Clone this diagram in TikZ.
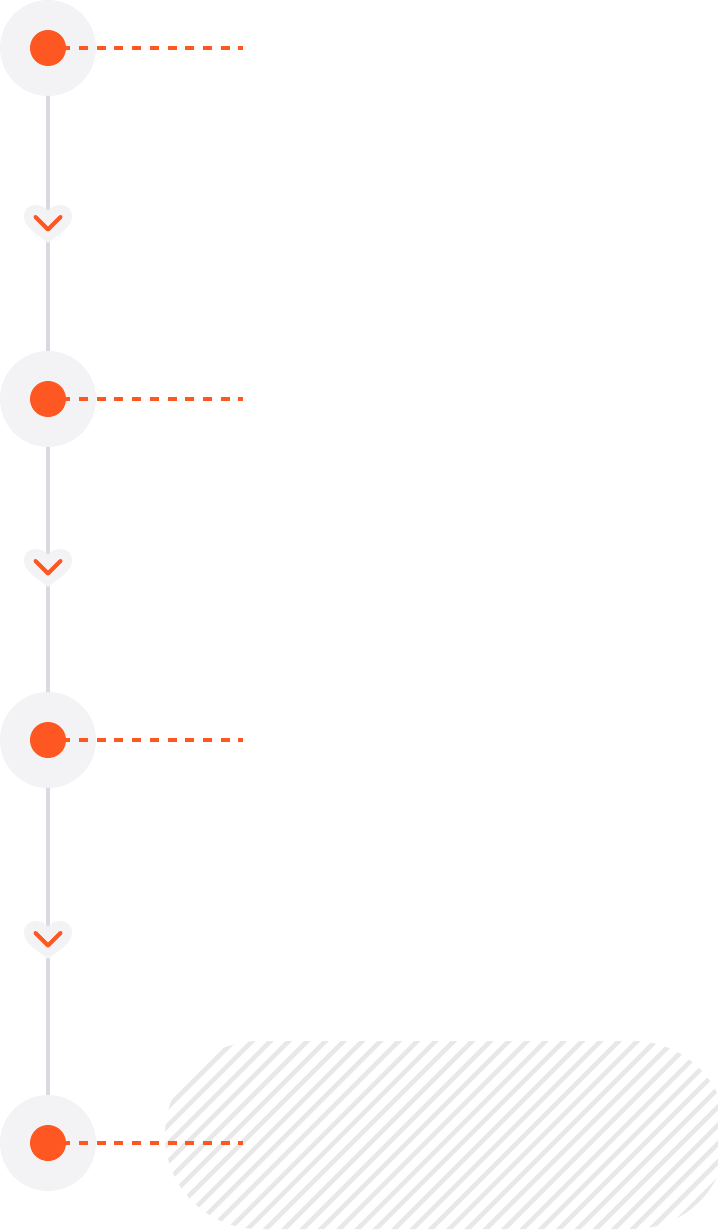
\documentclass[tikz,border=0pt]{standalone}
\usetikzlibrary{calc}
\definecolor{orng}{HTML}{FF5722}
\definecolor{halo}{HTML}{F3F3F5}
\definecolor{rail}{HTML}{D9D9E1}
\definecolor{hatch}{HTML}{E8E8E8}
\tikzset{
  halonode/.style={circle,fill=halo,minimum size=96pt,inner sep=0pt},
  dotnode/.style={circle,fill=orng,minimum size=36pt,inner sep=0pt},
  railline/.style={draw=rail,line width=4pt},
  leader/.style={draw=orng,line width=4pt,dash pattern=on 9pt off 8.7pt,dash phase=4.4pt},
  stripe/.style={draw=hatch,line width=4.6pt},
  chev/.style={draw=orng,line width=4pt,line cap=round,line join=round},
  heartmark/.pic={
    \fill[halo] (0,38) .. controls (-8,31) and (-24,23) .. (-24,12)
      .. controls (-24,4) and (-19,0) .. (-12,0)
      .. controls (-6,0) and (-2,3) .. (0,6)
      .. controls (2,3) and (6,0) .. (12,0)
      .. controls (19,0) and (24,4) .. (24,12)
      .. controls (24,23) and (8,31) .. (0,38) -- cycle;
    \draw[chev] (-12.5,12) -- (0,24.5) -- (12.5,12);
  }
}
\begin{document}
\begin{tikzpicture}[x=1pt,y=-1pt]
\useasboundingbox (0,0) rectangle (717,1230);
% hatched pill (stadium), drawn in an upright frame
\begin{scope}[x=1pt,y=1pt]
  \clip (259,-1041) -- (633,-1041) arc[start angle=90,end angle=-90,radius=94pt]
        -- (259,-1229) arc[start angle=270,end angle=90,radius=94pt] -- cycle;
  \foreach \k in {0,1,...,46} {
    \pgfmathsetmacro{\cc}{1146.66+18.33*\k}
    \draw[stripe] (\cc-1280,-1280) -- (\cc-1000,-1000);
  }
\end{scope}
% anchor points
\coordinate (p1) at (48,48);
\coordinate (p2) at (48,399);
\coordinate (p3) at (48,740);
\coordinate (p4) at (48,1143);
\coordinate (e1) at (243,48);
\coordinate (e2) at (243,399);
\coordinate (e3) at (243,740);
\coordinate (e4) at (243,1143);
% rail
\draw[railline] (p1) -- (p4);
% halos
\node[halonode] (c1) at (p1) {};
\node[halonode] (c2) at (p2) {};
\node[halonode] (c3) at (p3) {};
\node[halonode] (c4) at (p4) {};
% leaders
\draw[leader] (p1) -- (e1);
\draw[leader] (p2) -- (e2);
\draw[leader] (p3) -- (e3);
\draw[leader] (p4) -- (e4);
% dots
\node[dotnode] (d1) at (p1) {};
\node[dotnode] (d2) at (p2) {};
\node[dotnode] (d3) at (p3) {};
\node[dotnode] (d4) at (p4) {};
% hearts
\pic at (48,205) {heartmark};
\pic at (48,549) {heartmark};
\pic at (48,921) {heartmark};
\end{tikzpicture}
\end{document}
